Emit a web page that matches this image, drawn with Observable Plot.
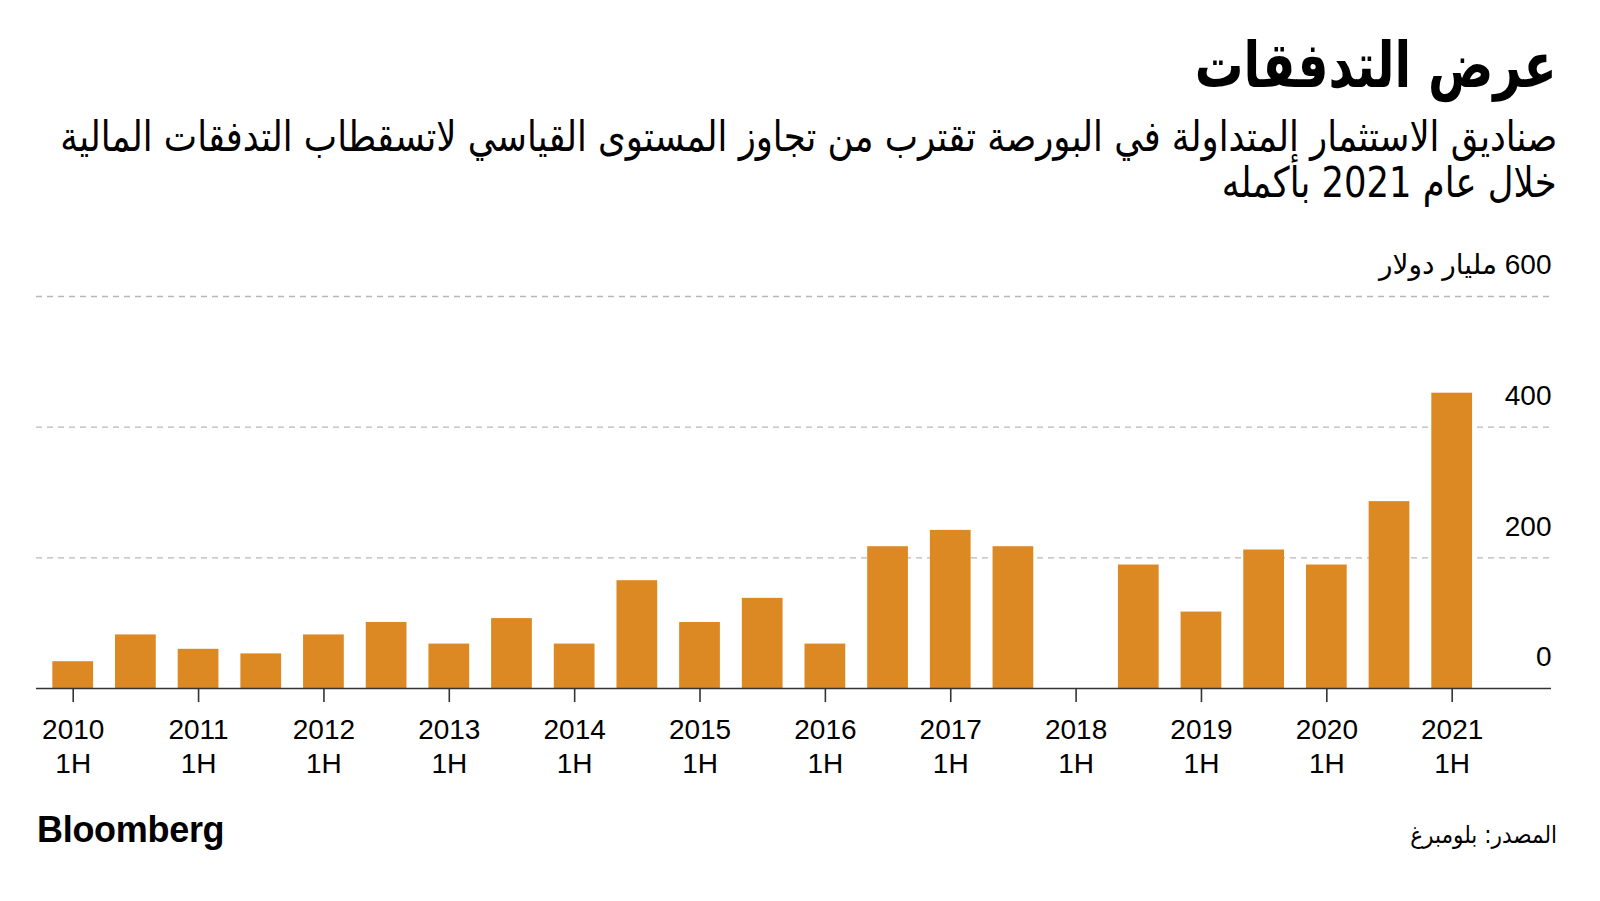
<!DOCTYPE html>
<html><head><meta charset="utf-8">
<script src="https://cdn.jsdelivr.net/npm/d3@7"></script>
<script src="https://cdn.jsdelivr.net/npm/@observablehq/plot@0.6"></script>
<style>
html,body{margin:0;padding:0;background:#fff;}
#root{position:relative;width:1600px;height:901px;overflow:hidden;background:#fff;font-family:"Liberation Sans",Arial,sans-serif;}
.ar{font-family:"DejaVu Sans Condensed","DejaVu Sans",sans-serif;direction:rtl;position:absolute;right:43px;white-space:nowrap;color:#000;line-height:1;transform-origin:right center;}
#title{top:34px;font-weight:bold;font-size:63px;}
#sub1{top:116px;font-size:42px;}
#sub2{top:162px;font-size:42px;}
#source{top:823px;font-size:24px;}
#brand{position:absolute;left:37px;top:812px;font-family:"Liberation Sans",Arial,sans-serif;font-weight:bold;font-size:36px;line-height:1;letter-spacing:-0.3px;color:#000;}
#chart{position:absolute;left:0;top:240px;direction:ltr;}
</style>
</head><body>
<div id="root">
  <div class="ar" id="title">عرض التدفقات</div>
  <div class="ar" id="sub1">صناديق الاستثمار المتداولة في البورصة تقترب من تجاوز المستوى القياسي لاتسقطاب التدفقات المالية</div>
  <div class="ar" id="sub2">خلال عام 2021 بأكمله</div>
  <div id="chart"></div>
  <div id="brand">Bloomberg</div>
  <div class="ar" id="source">المصدر: بلومبرغ</div>
</div>
<script>
const periods = ["2010 1H","2010 2H","2011 1H","2011 2H","2012 1H","2012 2H","2013 1H","2013 2H",
  "2014 1H","2014 2H","2015 1H","2015 2H","2016 1H","2016 2H","2017 1H","2017 2H",
  "2018 1H","2018 2H","2019 1H","2019 2H","2020 1H","2020 2H","2021 1H"];
const flows = [41, 82, 60, 53, 82, 101, 68, 107, 68, 165, 101, 138, 68, 217, 242, 217, 0, 189, 117, 212, 189, 286, 452];
const yTicks = [0, 200, 400, 600];
const yTickLabels = ["0", "200", "400", "\u202B600 مليار دولار\u202C"];
const xTickPeriods = periods.filter(p => p.endsWith("1H"));
const data = periods.map((p, i) => ({period: p, value: flows[i]}));

const chart = Plot.plot({
  width: 1600, height: 570,
  marginTop: 56, marginBottom: 122, marginLeft: 36, marginRight: 49,
  style: {fontFamily: '"Liberation Sans", Arial, "DejaVu Sans", sans-serif', fontSize: "28px", color: "#000", background: "transparent"},
  x: {type: "band", domain: periods, range: [30.4, 1494], padding: 0.35, round: false, axis: null, label: null},
  y: {domain: [0, 600], axis: null, label: null},
  marks: [
    Plot.ruleY([200, 400, 600], {stroke: "#b8b8b8", strokeWidth: 1.3, strokeDasharray: "6,5"}),
    Plot.barY(data, {x: "period", y: "value", fill: "#dd8923"}),
    Plot.ruleY([0], {stroke: "#333", strokeWidth: 1.6}),
    Plot.axisX({ticks: xTickPeriods, tickSize: 14, tickPadding: 13, tickFormat: p => p.replace(" ", "\n"),
      fontSize: 28, lineHeight: 1.2, stroke: "#333", strokeWidth: 1.6, label: null}),
    Plot.text(yTicks, {y: d => d, text: (d, i) => yTickLabels[i], frameAnchor: "right", textAnchor: "end",
      dy: -31, fontSize: 28, fill: "#000"})
  ]
});
document.getElementById("chart").appendChild(chart);

function fit(ids, target) {
  const els = ids.map(id => document.getElementById(id));
  const w = els[0].getBoundingClientRect().width;
  const s = target / w;
  els.forEach(el => el.style.transform = `scaleX(${s})`);
}
fit(["sub1", "sub2"], 1497);
fit(["title"], 362);
</script>
</body></html>
